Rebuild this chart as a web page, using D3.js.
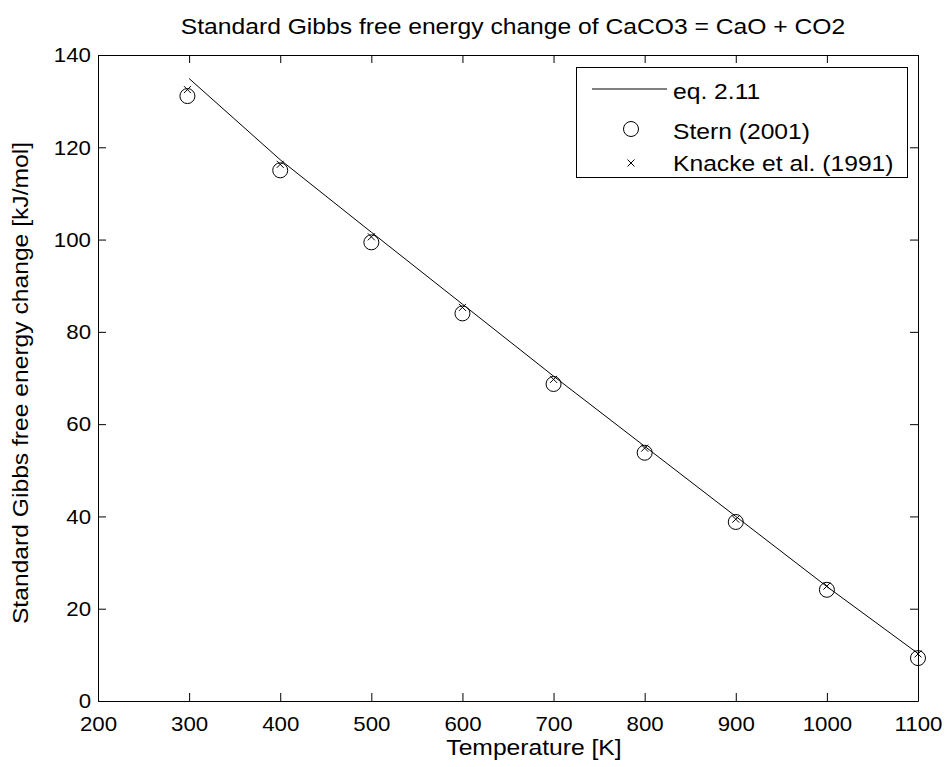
<!DOCTYPE html>
<html>
<head>
<meta charset="utf-8">
<script src="https://cdn.jsdelivr.net/npm/d3@7"></script>
<style>
  html, body { margin: 0; padding: 0; background: #fff; }
  svg { display: block; font-family: "Liberation Sans", Arial, sans-serif; }
</style>
</head>
<body>
<script>
// Temperatures [K] and standard Gibbs free energy change [kJ/mol]
const eqT = [300, 400, 500, 600, 700, 800, 900, 1000, 1100];
const eqG = [134.9, 117.3, 101.6, 86.0, 70.4, 55.2, 40.0, 24.8, 10.3];

const sternT = [298.15, 400, 500, 600, 700, 800, 900, 1000, 1100];
const sternG = [131.1, 115.0, 99.4, 84.0, 68.7, 53.8, 38.8, 24.1, 9.3];

const knackeT = [298.15, 400, 500, 600, 700, 800, 900, 1000, 1100];
const knackeG = [132.5, 116.3, 100.6, 85.3, 69.7, 54.8, 39.4, 24.9, 10.2];

const xTicks = [200, 300, 400, 500, 600, 700, 800, 900, 1000, 1100];
const yTicks = [0, 20, 40, 60, 80, 100, 120, 140];

const W = 948, H = 767;
const m = { left: 98, right: 30, top: 55, bottom: 66 };

const svg = d3.select("body").append("svg").attr("width", W).attr("height", H);

const x = d3.scaleLinear().domain([200, 1100]).range([m.left, W - m.right]);
const y = d3.scaleLinear().domain([0, 140]).range([H - m.bottom, m.top]);

const tickLen = 8;
const fs = 22;       // title, axis labels, legend
const tickFs = 21;   // tick labels
const wide = 1.12;   // horizontal widening of label text

// Stretch a text element horizontally by a factor
function widen(sel, k) {
  sel.each(function () {
    const len = this.getComputedTextLength();
    d3.select(this).attr("textLength", len * k).attr("lengthAdjust", "spacingAndGlyphs");
  });
}

// Axes box with inward ticks on all four sides
const axB = svg.append("g").attr("transform", `translate(0,${y(0)})`)
  .call(d3.axisBottom(x).tickValues(xTicks).tickFormat(d3.format("d"))
    .tickSize(-tickLen).tickPadding(15).tickSizeOuter(0));
const axT = svg.append("g").attr("transform", `translate(0,${y(140)})`)
  .call(d3.axisTop(x).tickValues(xTicks).tickSize(-tickLen).tickFormat("").tickSizeOuter(0));
const axL = svg.append("g").attr("transform", `translate(${x(200)},0)`)
  .call(d3.axisLeft(y).tickValues(yTicks).tickFormat(d3.format("d"))
    .tickSize(-tickLen).tickPadding(7).tickSizeOuter(0));
const axR = svg.append("g").attr("transform", `translate(${x(1100)},0)`)
  .call(d3.axisRight(y).tickValues(yTicks).tickSize(-tickLen).tickFormat("").tickSizeOuter(0));

[axB, axT, axL, axR].forEach(g => {
  g.attr("font-size", tickFs).attr("font-family", "Liberation Sans, Arial, sans-serif");
  g.selectAll("path.domain").attr("stroke", "#000").attr("stroke-width", 1);
  g.selectAll(".tick line").attr("stroke", "#000").attr("stroke-width", 1);
  g.selectAll(".tick text").attr("fill", "#000");
});
widen(axB.selectAll(".tick text"), 1.06);
widen(axL.selectAll(".tick text"), 1.06);

// Title and axis labels
const title = svg.append("text").attr("x", (x(200) + x(1100)) / 2 + 5).attr("y", 34)
  .attr("text-anchor", "middle").attr("font-size", fs)
  .text("Standard Gibbs free energy change of CaCO3 = CaO + CO2");
const xLabel = svg.append("text").attr("x", (x(200) + x(1100)) / 2 + 26).attr("y", 755)
  .attr("text-anchor", "middle").attr("font-size", fs)
  .text("Temperature [K]");
const yLabel = svg.append("text")
  .attr("transform", `translate(28,${(y(0) + y(140)) / 2 + 5}) rotate(-90)`)
  .attr("text-anchor", "middle").attr("font-size", fs)
  .text("Standard Gibbs free energy change [kJ/mol]");
widen(title, wide);
widen(xLabel, wide);
widen(yLabel, wide);

// eq. 2.11 curve
const line = d3.line().x(d => x(d[0])).y(d => y(d[1]));
svg.append("path")
  .datum(d3.zip(eqT, eqG))
  .attr("d", line).attr("fill", "none").attr("stroke", "#000").attr("stroke-width", 1);

// Stern (2001) circles
svg.append("g").selectAll("circle")
  .data(d3.zip(sternT, sternG)).join("circle")
  .attr("cx", d => x(d[0])).attr("cy", d => y(d[1])).attr("r", 7.5)
  .attr("fill", "none").attr("stroke", "#000").attr("stroke-width", 1);

// Knacke et al. (1991) crosses
const cross = s => `M${-s},${-s}L${s},${s}M${-s},${s}L${s},${-s}`;
svg.append("g").selectAll("path")
  .data(d3.zip(knackeT, knackeG)).join("path")
  .attr("transform", d => `translate(${x(d[0])},${y(d[1])})`)
  .attr("d", cross(3.5)).attr("fill", "none").attr("stroke", "#000").attr("stroke-width", 1);

// Legend
const lg = svg.append("g");
lg.append("rect").attr("x", 576.5).attr("y", 67.5).attr("width", 331).attr("height", 110)
  .attr("fill", "#fff").attr("stroke", "#000").attr("stroke-width", 1);
const sampleY = [89, 129, 163];
const textY = [91, 131, 163];
lg.append("line").attr("x1", 592).attr("x2", 667).attr("y1", sampleY[0]).attr("y2", sampleY[0])
  .attr("stroke", "#000").attr("stroke-width", 1);
lg.append("circle").attr("cx", 631).attr("cy", sampleY[1]).attr("r", 7.5)
  .attr("fill", "none").attr("stroke", "#000").attr("stroke-width", 1);
lg.append("path").attr("transform", `translate(631,${sampleY[2]})`).attr("d", cross(3.5))
  .attr("fill", "none").attr("stroke", "#000").attr("stroke-width", 1);
const labels = ["eq. 2.11", "Stern (2001)", "Knacke et al. (1991)"];
labels.forEach((t, i) => {
  const tx = lg.append("text").attr("x", 673).attr("y", textY[i]).attr("dy", "0.36em")
    .attr("font-size", fs).text(t);
  widen(tx, wide);
});
</script>
</body>
</html>
